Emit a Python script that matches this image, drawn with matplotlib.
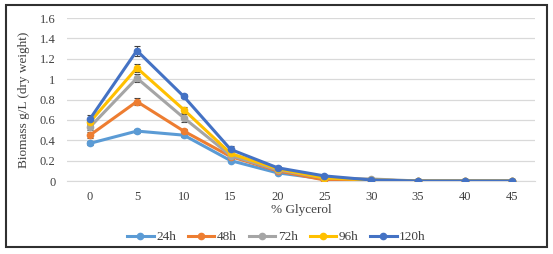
import numpy as np
import matplotlib.pyplot as plt
from matplotlib.patches import Rectangle
from matplotlib.lines import Line2D

plt.rcParams['font.family'] = ['Liberation Serif', 'DejaVu Serif']

glycerol = ['0', '5', '10', '15', '20', '25', '30', '35', '40', '45']
labels = ['24h', '48h', '72h', '96h', '120h']
biomass_24h = [0.37, 0.49, 0.45, 0.20, 0.08, 0.02, 0.01, 0.0, 0.0, 0.0]
biomass_48h = [0.45, 0.78, 0.49, 0.24, 0.10, 0.01, 0.01, 0.0, 0.0, 0.0]
biomass_72h = [0.53, 1.01, 0.62, 0.25, 0.11, 0.03, 0.02, 0.0, 0.0, 0.0]
biomass_96h = [0.58, 1.11, 0.70, 0.27, 0.12, 0.03, 0.01, 0.0, 0.0, 0.0]
biomass_120h = [0.61, 1.28, 0.83, 0.31, 0.13, 0.05, 0.01, 0.0, 0.0, 0.0]
err_24h = [0.02, 0.02, 0.02, 0.01, 0.01, 0.0, 0.0, 0.0, 0.0, 0.0]
err_48h = [0.03, 0.03, 0.02, 0.02, 0.01, 0.0, 0.0, 0.0, 0.0, 0.0]
err_72h = [0.03, 0.04, 0.04, 0.02, 0.01, 0.0, 0.0, 0.0, 0.0, 0.0]
err_96h = [0.03, 0.04, 0.03, 0.02, 0.01, 0.0, 0.0, 0.0, 0.0, 0.0]
err_120h = [0.04, 0.05, 0.02, 0.03, 0.02, 0.01, 0.0, 0.0, 0.0, 0.0]

series = [biomass_24h, biomass_48h, biomass_72h, biomass_96h, biomass_120h]
errors = [err_24h, err_48h, err_72h, err_96h, err_120h]
colors = ['#5B9BD5', '#ED7D31', '#A5A5A5', '#FFC000', '#4472C4']

fig = plt.figure(figsize=(5.53, 2.54), dpi=100)
ax = fig.add_axes([0.1204, 0.2874, 0.8476, 0.6417])
x = np.arange(len(glycerol))

handles = []
for vals, err, c, lab in zip(series, errors, colors, labels):
    ax.errorbar(x, vals, yerr=err, color=c, lw=2.2, marker='o', ms=4.5,
                ecolor='#404040', elinewidth=0.8, capsize=2, capthick=0.8,
                zorder=3)
    handles.append(Line2D([], [], color=c, lw=2.2, marker='o', ms=4.5, label=lab))

ax.set_xlim(-0.5, len(glycerol) - 0.5)
ax.set_ylim(0, 1.6)
ax.set_xticks(x)
ax.set_xticklabels(glycerol)
ax.set_yticks(np.arange(0, 1.61, 0.2))
ax.set_yticklabels(['0', '0.2', '0.4', '0.6', '0.8', '1', '1.2', '1.4', '1.6'])
ax.yaxis.grid(True, color='#D9D9D9', lw=0.9)
ax.set_axisbelow(True)
for s in ['top', 'right', 'left']:
    ax.spines[s].set_visible(False)
ax.spines['bottom'].set_color('#D9D9D9')
ax.tick_params(axis='both', length=0, labelsize=9, colors='#404040')
ax.tick_params(axis='x', pad=7)
ax.tick_params(axis='y', pad=8)
ax.set_xlabel('% Glycerol', fontsize=9.5, color='#404040', labelpad=1)
ax.set_ylabel('Biomass g/L (dry weight)', fontsize=9.5, color='#404040', labelpad=7)

fig.legend(handles=handles, loc='center', bbox_to_anchor=(0.5, 1 - 237 / 254), ncol=5,
           frameon=False, fontsize=9.5, handlelength=2.0, handletextpad=0.2,
           columnspacing=0.9, labelcolor='#404040')

fig.patches.append(Rectangle((6 / 553, 1 - 247 / 254), 541 / 553, 242 / 254,
                             transform=fig.transFigure, fill=False,
                             edgecolor='#303030', lw=1.5))

fig.savefig('out.png', dpi=100)
